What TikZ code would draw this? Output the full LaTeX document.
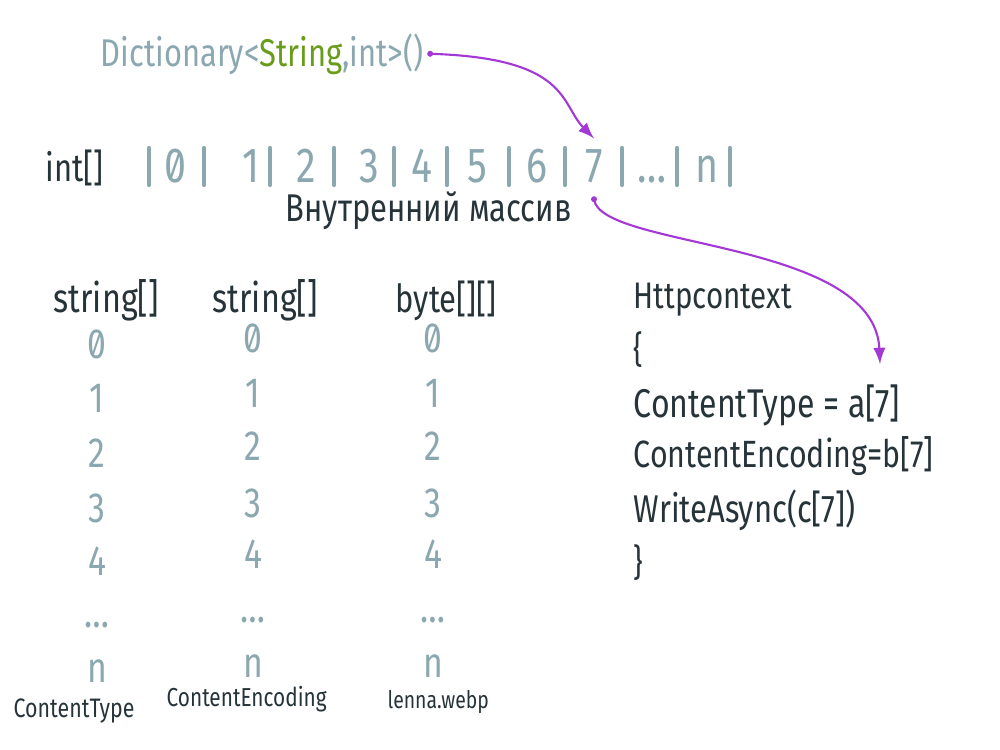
\documentclass[tikz,border=0pt]{standalone}
\usepackage{fontspec}
\setmainfont{Fira Sans}[FakeStretch=0.8,Numbers=SlashedZero]
\definecolor{chalk}{RGB}{139,167,176}
\definecolor{ink}{RGB}{38,52,58}
\definecolor{leaf}{RGB}{106,156,28}
\definecolor{plum}{RGB}{163,56,214}

\begin{document}
\begin{tikzpicture}[scale=1,
    lbl/.style={inner sep=0pt,anchor=base west},
    cell/.style={inner sep=0pt,anchor=base,text=chalk,font=\fontsize{14}{14}\selectfont},
    num/.style={inner sep=0pt,anchor=base,text=chalk,font=\fontsize{12}{12}\selectfont},
    link/.style={color=plum,line width=0.6pt,-latex}]
      \useasboundingbox (0,0) rectangle (10,7.49);
      % dictionary and the inner array
      \node[lbl,text=chalk,font=\fontsize{11}{11}\selectfont] (dict) at (1.00,6.83) {Dictionary<\textcolor{leaf}{String},int>()};
      \node[lbl,text=ink,font=\fontsize{11}{11}\selectfont] (intarr) at (0.45,5.68) {int[]};
      \foreach \x in {1.49,2.04,2.70,3.34,3.94,4.47,5.09,5.65,6.22,6.77,7.30}
        \draw[chalk,line width=1.2pt,line cap=round] (\x,5.64)--(\x,6.01);
      \foreach \x/\t/\n in {1.75/0/a0,2.51/1/a1,3.06/2/a2,3.69/3/a3,4.22/4/a4,4.77/5/a5,5.37/6/a6,5.94/7/a7,6.52/\ldots/adots,7.07/n/an}
        \node[cell] (\n) at (\x,5.67) {\t};
      \node[lbl,text=ink,font=\fontsize{11}{11}\selectfont] (inner) at (2.85,5.28) {Внутренний массив};
      % three arrays
      \node[lbl,text=ink,font=\fontsize{11.5}{11.5}\selectfont] (hdrA) at (0.53,4.37) {string[]};
      \node[lbl,text=ink,font=\fontsize{11.5}{11.5}\selectfont] (hdrB) at (2.12,4.37) {string[]};
      \node[lbl,text=ink,font=\fontsize{11}{11}\selectfont] (hdrC) at (3.95,4.37) {byte[][]};
      \foreach \t/\y/\z [count=\i] in {0/3.91/3.97,1/3.37/3.42,2/2.82/2.89,3/2.27/2.32,4/1.74/1.81,\ldots/1.22/1.27,n/0.67/0.72} {
        \node[num] (ct\i) at (0.97,\y) {\t};
        \node[num] (ce\i) at (2.53,\z) {\t};
        \node[num] (cb\i) at (4.33,\z) {\t};
      }
      \node[lbl,text=ink,font=\fontsize{7.6}{7.6}\selectfont] (ctype) at (0.13,0.32) {ContentType};
      \node[lbl,text=ink,font=\fontsize{7.4}{7.4}\selectfont] (cenc) at (1.66,0.43) {ContentEncoding};
      \node[lbl,text=ink,font=\fontsize{6.9}{6.9}\selectfont] (lenna) at (3.87,0.41) {lenna.webp};
      % httpcontext
      \node[lbl,text=ink,font=\fontsize{10.5}{10.5}\selectfont] (http) at (6.33,4.41) {Httpcontext};
      \node[lbl,text=ink,font=\fontsize{10.5}{10.5}\selectfont] (lbrace) at (6.33,3.87) {\{};
      \node[lbl,text=ink,font=\fontsize{11.4}{11.4}\selectfont] (ctline) at (6.33,3.32) {ContentType = a[7]};
      \node[lbl,text=ink,font=\fontsize{10.8}{10.8}\selectfont] (celine) at (6.33,2.82) {ContentEncoding=b[7]};
      \node[lbl,text=ink,font=\fontsize{11}{11}\selectfont] (wline) at (6.33,2.27) {WriteAsync(c[7])};
      \node[lbl,text=ink,font=\fontsize{10.5}{10.5}\selectfont] (rbrace) at (6.33,1.74) {\}};
      % arrows
      \coordinate (dictdot) at ([xshift=0.06cm]dict.east);
      \coordinate (a7dot) at ([yshift=-0.16cm]a7.south);
      \coordinate (atip) at (8.80,3.85);
      \fill[color=plum] (dictdot) circle (0.03);
      \draw[link] (dictdot) .. controls (5.7,6.91) and (5.6,6.45) .. ([yshift=0.1cm]a7.north);
      \fill[color=plum] (a7dot) circle (0.03);
      \draw[link] (a7dot) .. controls (6.0,5.0) and (8.75,5.1) .. (atip);
    \end{tikzpicture}
\end{document}
